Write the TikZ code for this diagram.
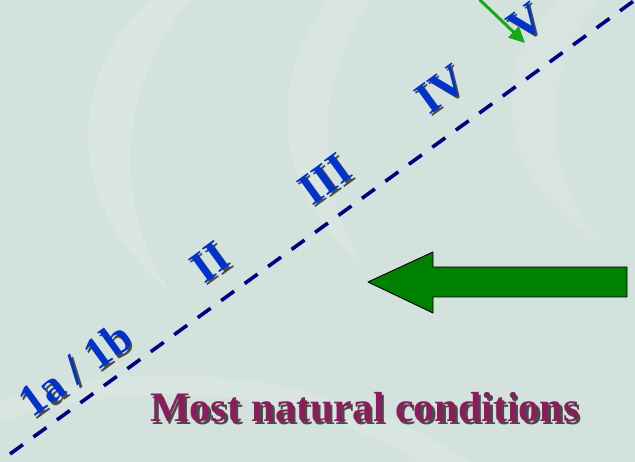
\documentclass[tikz,border=0pt]{standalone}
\usepackage{fontspec}
\setmainfont{Liberation Serif}
\usetikzlibrary{calc,arrows.meta}
\definecolor{paper}{RGB}{212,226,222}
\definecolor{swirl}{RGB}{230,238,235}
\definecolor{navy}{RGB}{0,0,128}
\definecolor{stage}{RGB}{0,51,204}
\definecolor{plum}{RGB}{138,30,92}
\definecolor{leaf}{RGB}{0,128,0}
\definecolor{lime}{RGB}{20,170,20}

\begin{document}
\begin{tikzpicture}[x=1pt,y=1pt,line cap=round,line join=round,
  stagetext/.style={font=\fontsize{45}{48}\selectfont\bfseries,text=stage,rotate=36,inner sep=0pt},
  stageshade/.style={font=\fontsize{45}{48}\selectfont\bfseries,text=black!85,rotate=36,inner sep=0pt,opacity=.8},
  titletext/.style={font=\fontsize{42}{46}\selectfont\bfseries,text=plum,anchor=base,inner sep=0pt},
  titleshade/.style={font=\fontsize{42}{46}\selectfont\bfseries,text=black!85,anchor=base,inner sep=0pt,opacity=.8}]
\useasboundingbox (0,0) rectangle (635,462);
\path[fill=paper] (0,0) rectangle (635,462);
% faint background swirls
\path[fill=swirl,opacity=.35] (150,462) .. controls (60,380) and (70,250) .. (170,170) .. controls (110,260) and (120,380) .. (190,462) -- cycle;
\path[fill=swirl,opacity=.3] (330,462) .. controls (260,380) and (280,260) .. (360,200) .. controls (310,290) and (320,390) .. (370,462) -- cycle;
\path[fill=swirl,opacity=.3] (0,60) .. controls (150,110) and (330,90) .. (470,0) -- (420,0) .. controls (300,70) and (150,90) .. (0,40) -- cycle;
\path[fill=white,opacity=.1] (560,462) .. controls (480,390) and (500,280) .. (600,220) .. controls (540,300) and (540,390) .. (600,462) -- cycle;

% dashed axis
\coordinate (lo) at (10,8);
\coordinate (hi) at (635,462);
\draw[navy,line width=3.6pt,line cap=butt,dash pattern=on 16pt off 13pt] (lo) -- (hi);

% stage labels
\node[stageshade] (s1-s) at (77.5,90.5) {1a / 1b};
\node[stagetext] (s1) at (75,93) {1a / 1b};
\node[stageshade] (s2-s) at (212.5,197.5) {II};
\node[stagetext] (s2) at (210,200) {II};
\node[stageshade] (s3-s) at (327.5,280.5) {III};
\node[stagetext] (s3) at (325,283) {III};
\node[stageshade] (s4-s) at (443.5,370.5) {IV};
\node[stagetext] (s4) at (441,373) {IV};
\node[stageshade] (s5-s) at (528.5,437.5) {V};
\node[stagetext] (s5) at (526,440) {V};

% pointer onto V
\coordinate (top) at (480,462);
\coordinate (tip) at (525,419);
\draw[lime,line width=3pt,-{Triangle[length=16pt,width=15pt]}] (top) -- (tip);

% big block arrow
\path[fill=leaf,draw=black,line width=.9pt]
  (368,180) -- (433,210) -- (433,195) -- (627,195) -- (627,165) -- (433,165) -- (433,149) -- cycle;

% caption
\node[titleshade] (cap-s) at (367.5,37.5) {Most natural conditions};
\node[titletext] (cap) at (365,40) {Most natural conditions};
\end{tikzpicture}
\end{document}
